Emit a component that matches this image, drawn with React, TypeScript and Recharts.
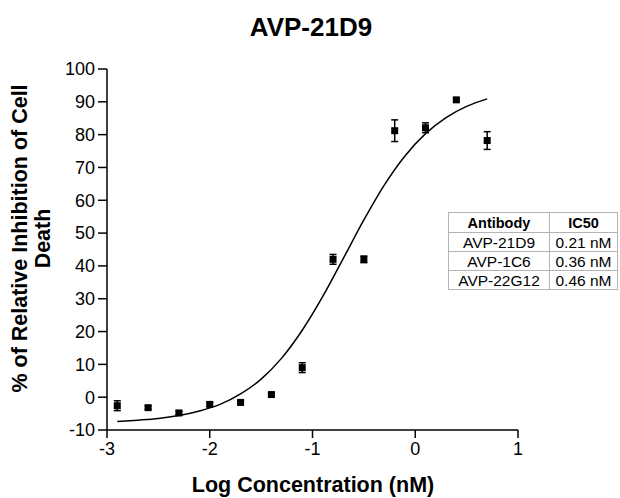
import { ComposedChart, Scatter, Line, XAxis, YAxis, ErrorBar } from "recharts";

// measured points (log nM) with error
const doseLog: number[] = [-2.9, -2.6, -2.3, -2.0, -1.7, -1.4, -1.1, -0.8, -0.5, -0.2, 0.1, 0.4, 0.7];
const inhibition: number[] = [-2.6, -3.2, -4.8, -2.2, -1.6, 0.8, 9.0, 42, 42, 81.2, 82.1, 90.6, 78.2];
const inhibitionErr: number[] = [1.5, 0.5, 0.5, 0.6, 0.5, 0.4, 1.5, 1.5, 1.0, 3.3, 1.5, 0.5, 2.7];

// fitted curve
const curveLog: number[] = [-2.9, -2.7, -2.5, -2.3, -2.1, -1.9, -1.7, -1.5, -1.3, -1.1, -0.9, -0.7, -0.5, -0.3, -0.1, 0.1, 0.3, 0.5, 0.7];
const curveVal: number[] = [-7.4, -7.0, -6.5, -5.6, -4.2, -2.2, 1.0, 5.5, 11.9, 20.4, 30.7, 42.3, 54.0, 64.7, 73.5, 80.3, 85.2, 88.6, 90.9];

const xTicks: number[] = [-3, -2, -1, 0, 1];
const yTicks: number[] = [-10, 0, 10, 20, 30, 40, 50, 60, 70, 80, 90, 100];

const antibodies: string[] = ["AVP-21D9", "AVP-1C6", "AVP-22G12"];
const ic50s: string[] = ["0.21 nM", "0.36 nM", "0.46 nM"];

const FONT = "'Liberation Sans', Arial, sans-serif";

const points = doseLog.map((x, i) => ({ x, y: inhibition[i], err: inhibitionErr[i] }));
const curve = curveLog.map((x, i) => ({ x, y: curveVal[i] }));

const Square = (props: any) => {
    const { cx, cy } = props;
    if (cx == null || cy == null) return null;
    return <rect x={cx - 3.5} y={cy - 3.5} width={7} height={7} fill="#000" />;
};

const cellBorder = "1px solid #b4b4b4";

export default function App() {
    const tickStyle = { fill: "#000", fontSize: 18, fontFamily: FONT };
    return (
        <div style={{ position: "absolute", left: 0, top: 0, width: 620, height: 498, background: "#fff" }}>
            <ComposedChart
                width={620}
                height={498}
                margin={{ top: 69, right: 102, bottom: 0, left: 0 }}
            >
                <XAxis
                    type="number"
                    dataKey="x"
                    domain={[-3, 1]}
                    ticks={xTicks}
                    height={68}
                    tickSize={8}
                    tickMargin={4}
                    tick={tickStyle}
                    axisLine={{ stroke: "#000", strokeWidth: 1.5 }}
                    tickLine={{ stroke: "#000", strokeWidth: 1.5 }}
                />
                <YAxis
                    type="number"
                    dataKey="y"
                    domain={[-10, 100]}
                    ticks={yTicks}
                    width={107}
                    tickSize={9}
                    tickMargin={3}
                    tick={tickStyle}
                    axisLine={{ stroke: "#000", strokeWidth: 1.5 }}
                    tickLine={{ stroke: "#000", strokeWidth: 1.5 }}
                    interval={0}
                />
                <Line
                    data={curve}
                    dataKey="y"
                    type="monotone"
                    dot={false}
                    stroke="#000"
                    strokeWidth={1.5}
                    isAnimationActive={false}
                />
                <Scatter data={points} dataKey="y" shape={Square} isAnimationActive={false}>
                    <ErrorBar dataKey="err" direction="y" width={3.5} stroke="#000" strokeWidth={1.5} />
                </Scatter>
            </ComposedChart>

            <svg width={620} height={498} style={{ position: "absolute", left: 0, top: 0, pointerEvents: "none" }}>
                <text x={311} y={36} textAnchor="middle" fontFamily={FONT} fontWeight="bold" fontSize={26}>
                    AVP-21D9
                </text>
                <text x={313} y={492} textAnchor="middle" fontFamily={FONT} fontWeight="bold" fontSize={21.5}>
                    Log Concentration (nM)
                </text>
                <text transform="translate(27,238.5) rotate(-90)" textAnchor="middle" fontFamily={FONT} fontWeight="bold" fontSize={21.5}>
                    % of Relative Inhibition of Cell
                </text>
                <text transform="translate(50,238.5) rotate(-90)" textAnchor="middle" fontFamily={FONT} fontWeight="bold" fontSize={21.5}>
                    Death
                </text>
            </svg>

            <table
                style={{
                    position: "absolute",
                    left: 448,
                    top: 212,
                    borderCollapse: "collapse",
                    fontFamily: FONT,
                    color: "#000",
                    tableLayout: "fixed",
                }}
            >
                <tbody>
                    <tr style={{ height: 20 }}>
                        <td style={{ width: 100, border: cellBorder, textAlign: "center", fontWeight: "bold", fontSize: 14.5, padding: 0, lineHeight: "18px" }}>
                            Antibody
                        </td>
                        <td style={{ width: 67, border: cellBorder, textAlign: "center", fontWeight: "bold", fontSize: 14.5, padding: 0, lineHeight: "18px" }}>
                            IC50
                        </td>
                    </tr>
                    {antibodies.map((a, i) => (
                        <tr key={a} style={{ height: 19 }}>
                            <td style={{ border: cellBorder, textAlign: "center", fontSize: 15.5, padding: 0, lineHeight: "17px" }}>{a}</td>
                            <td style={{ border: cellBorder, textAlign: "center", fontSize: 15.5, padding: 0, lineHeight: "17px" }}>{ic50s[i]}</td>
                        </tr>
                    ))}
                </tbody>
            </table>
        </div>
    );
}
